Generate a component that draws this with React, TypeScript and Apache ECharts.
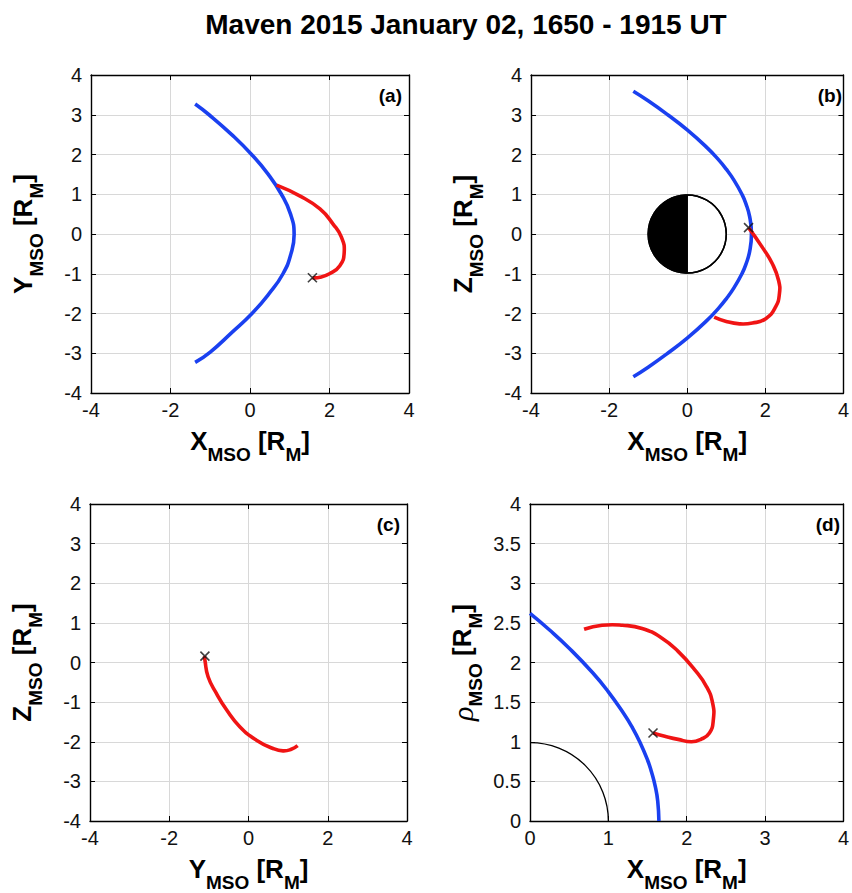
import React, { useEffect, useRef } from 'react';
import * as echarts from 'echarts';

const titleText = 'Maven 2015 January 02, 1650 - 1915 UT';
const panelLabels = ['(a)', '(b)', '(c)', '(d)'];

// Bow shock traces
const bowShockXY: [number, number][] = [
  [-1.38, 3.27], [-1.03, 3.0], [-0.46, 2.5], [0.04, 2.0], [0.46, 1.5], [0.79, 1.0],
  [1.02, 0.5], [1.11, 0.0], [1.03, -0.5], [0.83, -1.0], [0.48, -1.5], [0.05, -2.0],
  [-0.46, -2.48], [-1.0, -2.97], [-1.38, -3.23],
];
const bowShockXZ: [number, number][] = [
  [-1.38, 3.59], [-1.0, 3.35], [-0.5, 3.0], [0.0, 2.62], [0.5, 2.18], [0.8, 1.87],
  [1.0, 1.63], [1.2, 1.35], [1.4, 1.0], [1.5, 0.77], [1.6, 0.43], [1.645, 0.0],
  [1.6, -0.43], [1.5, -0.77], [1.4, -1.0], [1.2, -1.35], [1.0, -1.63], [0.8, -1.87],
  [0.5, -2.18], [0.0, -2.62], [-0.5, -3.0], [-1.0, -3.35], [-1.38, -3.59],
];
const bowShockXRho: [number, number][] = [
  [0.0, 2.62], [0.25, 2.41], [0.5, 2.18], [0.8, 1.87], [1.0, 1.63], [1.2, 1.35],
  [1.3, 1.19], [1.4, 1.0], [1.5, 0.77], [1.55, 0.62], [1.6, 0.43], [1.63, 0.25], [1.645, 0.0],
];

// MAVEN orbit segment
const orbitXY: [number, number][] = [
  [0.67, 1.23], [1.25, 0.96], [1.76, 0.63], [2.09, 0.25], [2.3, -0.08],
  [2.37, -0.46], [2.26, -0.8], [2.0, -1.0], [1.76, -1.09], [1.57, -1.1],
];
const orbitXZ: [number, number][] = [
  [0.69, -2.09], [1.0, -2.2], [1.34, -2.26], [1.67, -2.24], [2.01, -2.13], [2.26, -1.84],
  [2.36, -1.51], [2.34, -1.17], [2.18, -0.75], [1.92, -0.33], [1.57, 0.16],
];
const orbitYZ: [number, number][] = [
  [1.24, -2.1], [1.08, -2.19], [0.87, -2.23], [0.62, -2.17], [0.2, -1.96], [-0.22, -1.62],
  [-0.55, -1.2], [-0.81, -0.78], [-1.02, -0.36], [-1.1, 0.06], [-1.11, 0.16],
];
const orbitXRho: [number, number][] = [
  [0.69, 2.42], [0.92, 2.47], [1.18, 2.47], [1.43, 2.43], [1.68, 2.31], [1.89, 2.14],
  [2.1, 1.91], [2.25, 1.7], [2.33, 1.49], [2.34, 1.28], [2.29, 1.11], [2.18, 1.03],
  [2.06, 1.0], [1.89, 1.03], [1.72, 1.07], [1.57, 1.11],
];

// Crossing markers
const crossXY: [number, number][] = [[1.57, -1.1]];
const crossXZ: [number, number][] = [[1.57, 0.16]];
const crossYZ: [number, number][] = [[-1.1, 0.16]];
const crossXRho: [number, number][] = [[1.57, 1.11]];

// Mars (center x, center y, radius)
const marsDisc: [number, number, number][] = [[0, 0, 1]];
const marsQuarter: [number, number, number][] = [[0, 0, 1]];

const xRangeFull = { min: -4, max: 4, interval: 2 };
const yRangeFull = { min: -4, max: 4, interval: 1 };
const xRangeD = { min: 0, max: 4, interval: 1 };
const yRangeD = { min: 0, max: 4, interval: 0.5 };

const xNames = ['X', 'X', 'Y', 'X'];
const yNames = ['Y', 'Z', 'Z', 'ρ'];

const FONT = '"Liberation Sans", Arial, Helvetica, sans-serif';
const BLUE = '#1a40f0';
const RED = '#f01414';

const grids = [
  { left: 91, top: 75, width: 318, height: 318 },
  { left: 531, top: 75, width: 318, height: 318 },
  { left: 90, top: 504, width: 317, height: 317 },
  { left: 530, top: 504, width: 317, height: 317 },
];

const rich = {
  m: { fontSize: 26, fontWeight: 'bold', fontFamily: FONT, color: '#000', lineHeight: 46 },
  s: { fontSize: 19, fontWeight: 'bold', fontFamily: FONT, color: '#000', lineHeight: 15, verticalAlign: 'bottom' },
  g: { fontSize: 30, fontStyle: 'italic', fontFamily: '"Liberation Serif", "DejaVu Serif", serif', color: '#000', lineHeight: 46 },
};

function axisName(sym: string) {
  const first = sym === 'ρ' ? `{g|${sym}}` : `{m|${sym}}`;
  return `${first}{s|MSO}{m| [R}{s|M}{m|]}`;
}

export default function App() {
  const ref = useRef<HTMLDivElement>(null);
  useEffect(() => {
    if (!ref.current) return;
    const chart = echarts.init(ref.current, null, { renderer: 'svg' });

    const xAxes: any[] = [];
    const yAxes: any[] = [];
    grids.forEach((g, i) => {
      const xr = i === 3 ? xRangeD : xRangeFull;
      const yr = i === 3 ? yRangeD : yRangeFull;
      const common = {
        gridIndex: i,
        type: 'value',
        axisLine: { show: true, onZero: false, lineStyle: { color: '#000', width: 1.4 } },
        axisTick: { show: true, inside: true, length: 5, lineStyle: { color: '#000', width: 1 } },
      };
      xAxes.push({
        ...common, ...xr, position: 'bottom',
        axisLabel: { show: true, fontSize: 20, fontFamily: FONT, color: '#111', margin: 7 },
        splitLine: { show: true, lineStyle: { color: '#d8d8d8', width: 1 } },
        name: axisName(xNames[i]), nameLocation: 'middle', nameGap: 25,
        nameTextStyle: { rich },
      });
      xAxes.push({
        ...common, ...xr, position: 'top',
        axisLabel: { show: false }, splitLine: { show: false },
      });
      yAxes.push({
        ...common, ...yr, position: 'left',
        axisLabel: { show: true, fontSize: 20, fontFamily: FONT, color: '#111', margin: 9 },
        splitLine: { show: true, lineStyle: { color: '#d8d8d8', width: 1 } },
        name: axisName(yNames[i]), nameLocation: 'middle', nameGap: 45,
        nameTextStyle: { rich },
      });
      yAxes.push({
        ...common, ...yr, position: 'right',
        axisLabel: { show: false }, splitLine: { show: false },
      });
    });

    const curve = (data: [number, number][], color: string, gi: number) => ({
      type: 'custom', data, xAxisIndex: gi * 2, yAxisIndex: gi * 2,
      encode: { x: 0, y: 1 }, silent: true, clip: false,
      renderItem: (params: any, api: any) => {
        if (params.dataIndex !== 0) return null;
        const pts = data.map((p) => api.coord(p));
        return {
          type: 'polyline',
          shape: { points: pts, smooth: 0.5 },
          style: { stroke: color, lineWidth: 3.6, fill: 'none', lineJoin: 'round' },
        };
      },
    });
    const cross = (data: [number, number][], gi: number) => ({
      type: 'scatter', data, xAxisIndex: gi * 2, yAxisIndex: gi * 2,
      symbol: 'path://M0,0L10,10M10,0L0,10', symbolSize: 9,
      itemStyle: { color: 'rgba(0,0,0,0)', borderColor: '#111', borderWidth: 1.6 },
      z: 5, silent: true,
    });

    const option: any = {
      animation: false,
      backgroundColor: '#fff',
      grid: grids.map((g) => ({ ...g, containLabel: false })),
      xAxis: xAxes,
      yAxis: yAxes,
      graphic: [
        {
          type: 'text', x: 466, y: 24,
          style: { text: titleText, fontSize: 28, fontWeight: 'bold', fontFamily: FONT, fill: '#000', textAlign: 'center', textVerticalAlign: 'middle' },
        },
        ...grids.map((g, i) => ({
          type: 'text', x: g.left + g.width - 7, y: g.top + 20,
          style: { text: panelLabels[i], fontSize: 19, fontWeight: 'bold', fontFamily: FONT, fill: '#000', textAlign: 'right', textVerticalAlign: 'middle' },
        })),
      ],
      series: [
        curve(bowShockXY, BLUE, 0),
        curve(orbitXY, RED, 0),
        cross(crossXY, 0),
        {
          type: 'custom', xAxisIndex: 2, yAxisIndex: 2, data: marsDisc, encode: { x: 0, y: 1 }, silent: true,
          renderItem: (params: any, api: any) => {
            const c = api.coord([api.value(0), api.value(1)]);
            const r = api.size([api.value(2), 0])[0];
            return {
              type: 'group',
              children: [
                { type: 'circle', shape: { cx: c[0], cy: c[1], r }, style: { fill: '#fff', stroke: '#000', lineWidth: 1.5 } },
                { type: 'sector', shape: { cx: c[0], cy: c[1], r0: 0, r, startAngle: Math.PI / 2, endAngle: (Math.PI * 3) / 2, clockwise: true }, style: { fill: '#000' } },
                { type: 'line', shape: { x1: c[0], y1: c[1] - r, x2: c[0], y2: c[1] + r }, style: { stroke: '#000', lineWidth: 1.5 } },
                { type: 'circle', shape: { cx: c[0], cy: c[1], r }, style: { fill: 'none', stroke: '#000', lineWidth: 1.5 } },
              ],
            };
          },
        },
        curve(bowShockXZ, BLUE, 1),
        curve(orbitXZ, RED, 1),
        cross(crossXZ, 1),
        curve(orbitYZ, RED, 2),
        cross(crossYZ, 2),
        {
          type: 'custom', xAxisIndex: 6, yAxisIndex: 6, data: marsQuarter, encode: { x: 0, y: 1 }, silent: true,
          renderItem: (params: any, api: any) => {
            const c = api.coord([api.value(0), api.value(1)]);
            const r = api.size([api.value(2), 0])[0];
            return {
              type: 'arc',
              shape: { cx: c[0], cy: c[1], r, startAngle: -Math.PI / 2, endAngle: 0, clockwise: true },
              style: { stroke: '#000', lineWidth: 1.3, fill: 'none' },
            };
          },
        },
        curve(bowShockXRho, BLUE, 3),
        curve(orbitXRho, RED, 3),
        cross(crossXRho, 3),
      ],
    };
    chart.setOption(option);
    return () => chart.dispose();
  }, []);

  return (
    <div
      ref={ref}
      style={{ position: 'absolute', left: 0, top: 0, width: 852, height: 893, background: '#fff' }}
    />
  );
}
